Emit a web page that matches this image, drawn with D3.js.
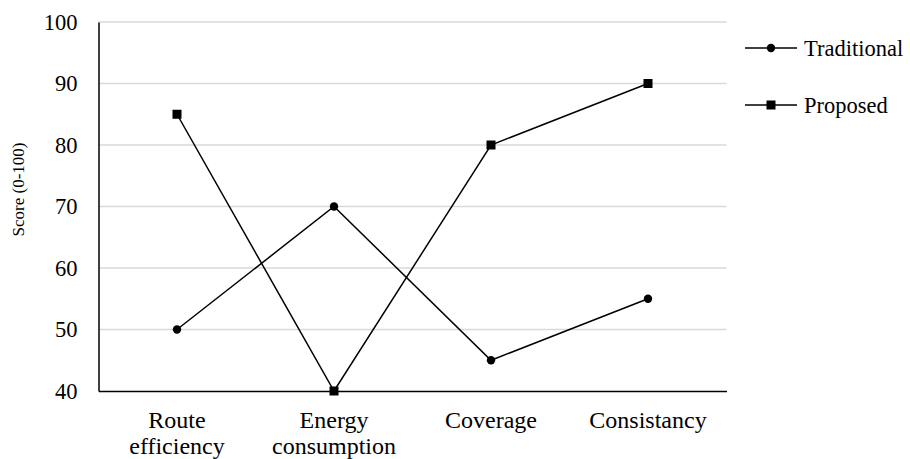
<!DOCTYPE html>
<html>
<head>
<meta charset="utf-8">
<script src="https://cdn.jsdelivr.net/npm/d3@7/dist/d3.min.js"></script>
<style>
  html, body { margin: 0; padding: 0; background: #fff; }
  svg { display: block; }
</style>
</head>
<body>
<svg id="chart" width="910" height="459"></svg>
<script>
// Scores per evaluation criterion
const categories = [["Route", "efficiency"], ["Energy", "consumption"], ["Coverage"], ["Consistancy"]];
const traditional = [50, 70, 45, 55];
const proposed = [85, 40, 80, 90];
const yTicks = [40, 50, 60, 70, 80, 90, 100];
const seriesNames = ["Traditional", "Proposed"];

const FONT = "Liberation Serif";
const svg = d3.select("#chart");
const margin = { left: 98.5, right: 183.5, top: 22, bottom: 68 };
const W = 910, H = 459;

const x = d3.scaleBand()
  .domain(categories.map((d, i) => i))
  .range([margin.left, W - margin.right]);
const y = d3.scaleLinear().domain([40, 100]).range([H - margin.bottom, margin.top]);
const cx = i => x(i) + x.bandwidth() / 2;

// Horizontal gridlines
svg.append("g").selectAll("line")
  .data(yTicks.filter(t => t > 40))
  .join("line")
  .attr("x1", margin.left).attr("x2", W - margin.right)
  .attr("y1", d => y(d)).attr("y2", d => y(d))
  .attr("stroke", "#d9d9d9").attr("stroke-width", 1.5);

// Y axis
const yAxis = svg.append("g")
  .attr("transform", `translate(${margin.left},0)`)
  .call(d3.axisLeft(y).tickValues(yTicks).tickSize(0).tickPadding(21));
yAxis.select(".domain").attr("stroke", "#000").attr("stroke-width", 1.5);
yAxis.selectAll("text")
  .style("font-family", FONT)
  .style("font-size", "22.5px").attr("fill", "#000");

// X axis with wrapped category labels
const xAxis = svg.append("g")
  .attr("transform", `translate(0,${y(40)})`)
  .call(d3.axisBottom(x).tickSize(0).tickFormat(""));
xAxis.select(".domain").attr("stroke", "#000").attr("stroke-width", 1.5);
xAxis.selectAll(".tick").each(function (d) {
  const t = d3.select(this).append("text")
    .attr("fill", "#000").attr("text-anchor", "middle")
    .style("font-family", FONT)
    .style("font-size", "24px");
  categories[d].forEach((line, j) => {
    t.append("tspan").attr("x", 0).attr("y", 37 + j * 26).text(line);
  });
});

// Y axis title
svg.append("text")
  .attr("transform", `translate(24,${(y(40) + y(100)) / 2 - 17}) rotate(-90)`)
  .attr("text-anchor", "middle")
  .style("font-family", FONT)
  .style("font-size", "17px")
  .attr("fill", "#000")
  .text("Score (0-100)");

const line = d3.line().x((d, i) => cx(i)).y(d => y(d));

// Traditional series: circles
svg.append("path").datum(traditional)
  .attr("d", line).attr("fill", "none").attr("stroke", "#000").attr("stroke-width", 1.5);
svg.append("g").selectAll("circle").data(traditional).join("circle")
  .attr("cx", (d, i) => cx(i)).attr("cy", d => y(d)).attr("r", 4.2).attr("fill", "#000");

// Proposed series: squares
svg.append("path").datum(proposed)
  .attr("d", line).attr("fill", "none").attr("stroke", "#000").attr("stroke-width", 1.5);
svg.append("g").selectAll("rect").data(proposed).join("rect")
  .attr("x", (d, i) => cx(i) - 4.5).attr("y", d => y(d) - 4.5)
  .attr("width", 9).attr("height", 9).attr("fill", "#000");

// Legend
const legend = svg.append("g");
seriesNames.forEach((name, k) => {
  const ly = 48 + k * 57;
  const g = legend.append("g");
  g.append("line").attr("x1", 745).attr("x2", 797).attr("y1", ly).attr("y2", ly)
    .attr("stroke", "#000").attr("stroke-width", 1.5);
  if (k === 0) {
    g.append("circle").attr("cx", 771).attr("cy", ly).attr("r", 4.2).attr("fill", "#000");
  } else {
    g.append("rect").attr("x", 771 - 4.5).attr("y", ly - 4.5).attr("width", 9).attr("height", 9).attr("fill", "#000");
  }
  g.append("text").attr("x", 804).attr("y", ly).attr("dy", "0.34em")
    .style("font-family", FONT)
    .style("font-size", "22.5px").attr("fill", "#000").text(name);
});
</script>
</body>
</html>
